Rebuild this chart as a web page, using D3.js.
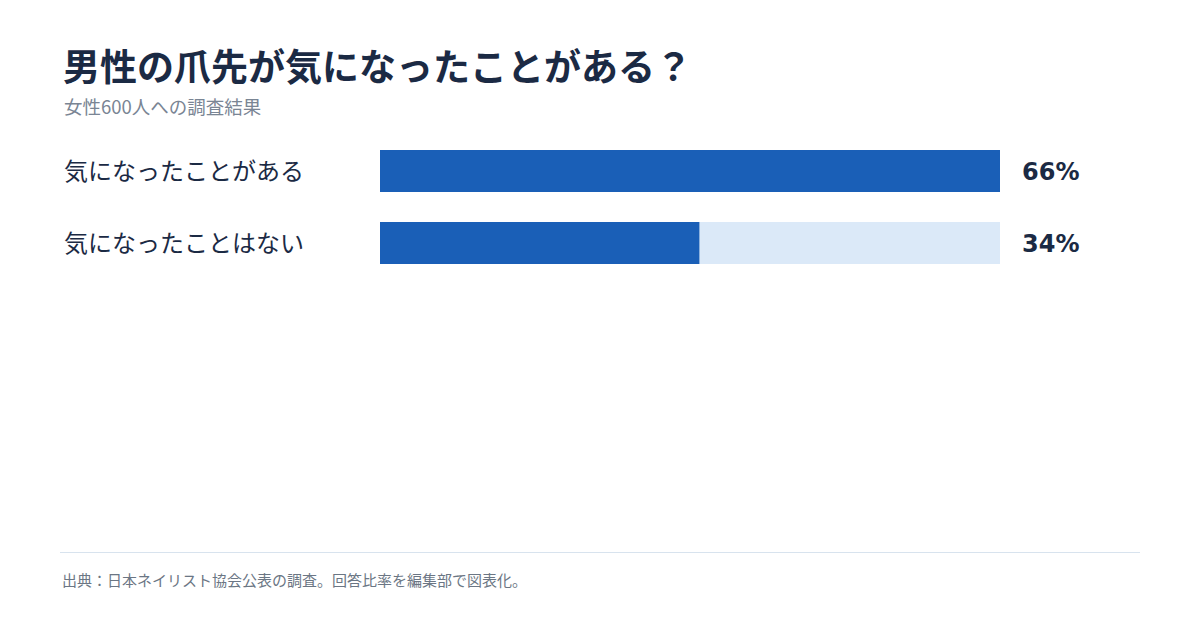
<!DOCTYPE html>
<html>
<head>
<meta charset="utf-8">
<script src="https://cdn.jsdelivr.net/npm/d3@7"></script>
<style>
  html, body { margin: 0; padding: 0; background: #fff; }
  svg { display: block; font-family: "Noto Sans CJK JP", "Noto Sans", sans-serif; }
</style>
</head>
<body>
<svg id="chart"></svg>
<script>
const categories = ['気になったことがある', '気になったことはない']
const values = [66, 34]
const title = '男性の爪先が気になったことがある？'
const subtitle = '女性600人への調査結果'
const source = '出典：日本ネイリスト協会公表の調査。回答比率を編集部で図表化。'

const W = 1200, H = 630
const svg = d3.select('#chart').attr('width', W).attr('height', H)

svg.append('text')
  .attr('x', 63).attr('y', 81)
  .attr('fill', '#1b2a44')
  .attr('font-size', '37px')
  .attr('font-weight', 700)
  .text(title)

svg.append('text')
  .attr('x', 64).attr('y', 114)
  .attr('fill', '#7a8594')
  .attr('font-size', '18.5px')
  .text(subtitle)

// bars scaled to the largest answer, track spans the full width
const x = d3.scaleLinear().domain([0, d3.max(values)]).range([380, 1000])
const y = d3.scaleBand().domain(categories).range([150, 264]).paddingInner(30 / 72)

const rows = svg.append('g')
  .selectAll('g')
  .data(categories.map((c, i) => ({ c, v: values[i] })))
  .join('g')

rows.append('rect')
  .attr('x', x(0))
  .attr('y', d => y(d.c))
  .attr('width', x(d3.max(values)) - x(0))
  .attr('height', y.bandwidth())
  .attr('fill', '#dbe9f8')

rows.append('rect')
  .attr('x', x(0))
  .attr('y', d => y(d.c))
  .attr('width', d => x(d.v) - x(0))
  .attr('height', y.bandwidth())
  .attr('fill', '#1a5fb7')

rows.append('text')
  .attr('x', 64)
  .attr('y', d => y(d.c) + y.bandwidth() / 2)
  .attr('dy', '0.36em')
  .attr('fill', '#1b2a44')
  .attr('font-size', '24px')
  .text(d => d.c)

rows.append('text')
  .attr('x', 1022)
  .attr('y', d => y(d.c) + y.bandwidth() / 2)
  .attr('dy', '0.36em')
  .attr('fill', '#1b2a44')
  .attr('font-size', '24px')
  .attr('font-weight', 700)
  .attr('font-family', '"DejaVu Sans", sans-serif')
  .text(d => d.v + '%')

svg.append('line')
  .attr('x1', 60).attr('x2', 1140)
  .attr('y1', 552.5).attr('y2', 552.5)
  .attr('stroke', '#d8e3ee')
  .attr('stroke-width', 1)

svg.append('text')
  .attr('x', 62).attr('y', 586)
  .attr('fill', '#6b7684')
  .attr('font-size', '15px')
  .text(source)
</script>
</body>
</html>
